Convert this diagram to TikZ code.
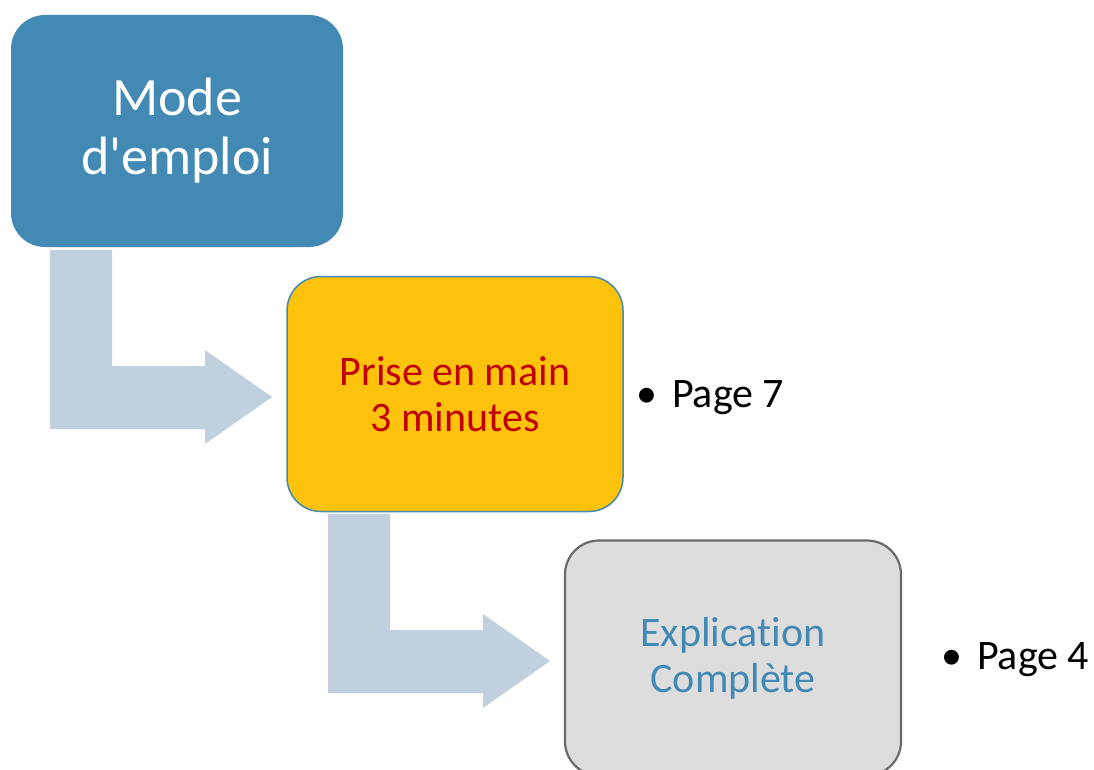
\documentclass[tikz,border=0pt]{standalone}
\usepackage{fontspec}
\setmainfont{Carlito}[Ligatures={NoCommon,TeXOff}]
\definecolor{mode}{HTML}{428AB4}
\definecolor{prise}{HTML}{FDC20B}
\definecolor{expl}{HTML}{DDDDDD}
\definecolor{arrowfill}{HTML}{C0D0DF}
\definecolor{redtxt}{HTML}{C00000}
\definecolor{bluetxt}{HTML}{428AB4}
\definecolor{greyline}{HTML}{6A6A6A}

\begin{document}
\begin{tikzpicture}[x=1pt, y=-1pt,
    box/.style={shape=rectangle, rounded corners=34pt, inner sep=0pt, align=center,
                minimum width=334pt, minimum height=234pt},
    big/.style={font=\fontsize{54}{59}\selectfont},
    small/.style={font=\fontsize{42}{46}\selectfont}]
    \useasboundingbox (0,0) rectangle (1094,770);
    \clip (0,0) rectangle (1094,770);

    % bent arrows, same shape twice
    \foreach \s in {0,1}
      \fill[arrowfill, shift={(278*\s,264*\s)}] (50,250) -- (112,250) -- (112,366) -- (205,366)
        -- (205,350) -- (272,397) -- (205,444) -- (205,429) -- (50,429) -- cycle;

    \node at (177, 131) (mode) [box, fill=mode, minimum width=332pt, minimum height=232pt, big, text=white] {Mode\\d'emploi};
    \node at (455, 394) (prise) [box, fill=prise, draw=bluetxt, line width=1.5pt, minimum width=336pt, minimum height=235pt, small, text=redtxt] {Prise en main\\3 minutes};
    \node at (733, 658) (expl) [box, fill=expl, draw=greyline, line width=2.2pt, minimum width=336pt, minimum height=235pt, small, text=bluetxt] {Explication\\Complète};

    \node at (636, 407) (p7) [anchor=base west, inner sep=0pt, small] {•\hspace{15pt}Page 7};
    \node at (941, 669) (p4) [anchor=base west, inner sep=0pt, small] {•\hspace{15pt}Page 4};
  \end{tikzpicture}
\end{document}
